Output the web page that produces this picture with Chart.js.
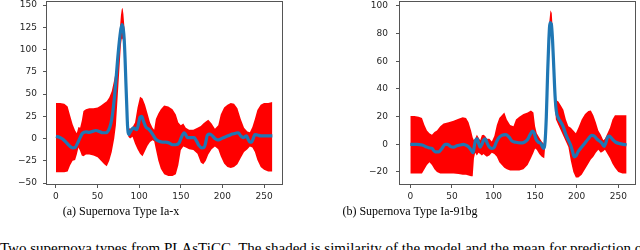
<!DOCTYPE html>
<html>
<head>
<meta charset="utf-8">
<script src="https://cdn.jsdelivr.net/npm/chart.js@4.4.0/dist/chart.umd.min.js"></script>
<style>
  body { margin: 0; width: 640px; height: 250px; overflow: hidden; background: #fff; position: relative; }
  canvas { position: absolute; top: 0; }
  .cap { position: absolute; top: 205px; font: 12px "Liberation Serif", serif; line-height: 12px; color: #000; white-space: nowrap; transform: translateX(-50%); }
  .foot { position: absolute; left: 0; top: 241px; width: 640px; height: 15px; overflow: hidden; font: 15px "Liberation Serif", serif; line-height: 15px; color: #000; white-space: nowrap; }
</style>
</head>
<body>
<canvas id="chartA" width="290" height="205" style="left:0px"></canvas>
<canvas id="chartB" width="320" height="205" style="left:320px"></canvas>
<div class="cap" style="left:121px">(a) Supernova Type Ia-x</div>
<div class="cap" style="left:410px">(b) Supernova Type Ia-91bg</div>
<div class="foot">Two supernova types from PLAsTiCC. The shaded is similarity of the model and the mean for prediction of each class</div>
<script>
// tick labels
const xTicks = [0, 50, 100, 150, 200, 250]
const yTicksA = [-50, -25, 0, 25, 50, 75, 100, 125, 150]
const yTicksB = [-20, 0, 20, 40, 60, 80, 100]

// (a) Type Ia-x : red band (upper / lower) and blue mean
const bandXA = [0,5,10,14,17,20,23,25,27,29,31,33,36,40,45,50,54,58,61,64,67,70,72,74,76,78,79,80,81,82,83,84,85,86,87,89,92,95,98,101,104,107,110,113,116,118,120,123,126,130,135,140,144,147,150,153,156,160,165,170,174,177,180,183,187,191,195,198,202,206,210,214,218,222,226,230,233,236,239,242,246,250,255,260]
const upperA = [40,40,39,36,26,16,9,6,13,12,20,31,33,34,34,35,37,40,42,46,53,66,76,95,115,138,145,147,140,128,110,85,55,25,12,11,13,18,35,47,45,38,28,18,12,10,22,28,33,37,36,33,27,18,15,17,12,10,10,12,14,17,19,21,17,11,15,27,35,38,40,39,34,22,12,8,7,13,22,32,38,40,40,41]
const lowerA = [-38,-38,-38,-37,-30,-25,-24,-18,-10,-14,-19,-20,-18,-18,-19,-21,-25,-29,-31,-25,-15,0,15,45,75,105,112,112,108,95,75,50,25,8,2,0,2,-6,-12,-17,-20,-14,-8,-4,-2,-3,-12,-25,-34,-40,-42,-42,-40,-30,-13,-9,-10,-12,-13,-17,-27,-29,-25,-18,-12,-9,-12,-20,-28,-32,-33,-32,-29,-22,-15,-12,-9,-10,-15,-24,-32,-35,-37,-37]
const meanXA = [0,4,8,12,16,20,23,26,29,32,36,40,44,48,52,56,60,63,66,68,70,72,74,76,78,79.5,81,82,83,84,85,86,87.5,89,91,93,95,97,99,101,103,105,108,112,116,120,124,128,132,136,140,144,148,151,154,156,158,162,166,169,172,175,178,180,182,185,188,191,194,197,200,204,208,212,216,219,222,225,227,229,231,233,235,237,239,242,246,252,260]
const meanA = [2.5,1.5,-0.5,-4,-8,-10.5,-10,-5,1,6,7.5,7,8,9,8,6.5,6.5,9,17,28,44,65,88,108,123,128,122,111,90,63,38,14,4.5,7,10,12,11,10,16,24,25,20,13,10,5,-1,-3,-4,-4,-5,-7,-7,-5,2,6.5,4,1,1,1,-3,-8,-10.5,-10,-4,4,5,3,0,-1.5,-1,0.5,2,3.5,5,6,6.5,3,1,2,3,-1,-4,-4,0,4.5,4,3,3,3]

// (b) Type Ia-91bg
const bandXB = [0,5,10,14,17,20,23,26,29,32,36,40,46,52,58,63,67,70,73,75,76.5,78,80,82,84,86,88,90,92,95,98,101,104,107,110,113,116,120,124,127,131,136,141,145,148,150,152,155,158,161,163,165,167,168.5,170,172,173.5,175,178,181,184,187,190,193,196,199,202,206,210,214,217,220,223,226,229,232,234,237,240,243,246,250,255,260]
const upperB = [20.5,20.5,20,19,14,10,8,7,9,10,13,15,16,17,18.5,19.5,19,16,10,5,3,4,7,5,3,6.5,7,6,4,4,2,6,14,19,21,23,18,14,13,18,20,22,23,24.5,23,13,8,5,2,0,25,60,88,97,95,75,50,32,31,28,25,18,13,12,10,8,12,18,22,24,24.5,21,16,10,7,3,4,8,12,18,21,21,21,21]
const lowerB = [-21,-21,-21,-21,-18,-15,-13,-15,-18,-20,-21,-21,-21,-21,-21.5,-22,-22,-22.5,-23,-23,-10,-6,-8,-6,-7,-8,-7,-8,-9,-8,-6,-7,-9,-13,-15,-17,-18,-19,-19,-19,-19,-18,-15,-10,-6,-3,-4,-7,-9,-10,5,48,80,85,78,55,30,18,14,10,6,2,-2,-12,-20,-24,-24,-22,-18,-14,-11,-9,-6,-4,-6,-5,-4,-7,-10,-14,-17,-20,-21,-21]
const meanXB = [0,8,14,18,22,26,30,34,38,42,45,48,52,56,60,64,68,71,74,75.5,77,78.5,80.5,82,84,86,88,90,92,95,98,101,103,106,110,115,119,122,127,132,137,141,144,147,149,151,154,157,160,162,163.5,165,166.5,168,169.5,171,172.5,174,175.5,178,181,184,187,190,193,195,197,199,202,206,210,214,218,221,224,227,230,233,235,237,239,241,244,247,252,256,260]
const meanB = [0,0,-0.5,-1.5,-2.5,-3,-5.5,-5.5,-3,0,0,-1.5,-2,-1,-0.5,0,-1,-2.5,-5,-6,-1,3,4,1,-2,0,3,4,1.5,-2,-3,-2,1,4.5,6.5,7,5,2.5,1.5,1,1.5,3.5,7,9.5,8,4,1.5,0.5,-3,2,20,50,75,88,87,75,55,35,24,19,16,12.5,7,3,-1,-5,-9,-8.5,-5,-2,1,4,6.5,6,4,2.5,1,-1.5,1,5,6,5,3,1.5,0.5,0,-0.5]

const fmt = (v) => (v < 0 ? "\u2212" + Math.abs(v) : String(v))
const pts = (xs, ys) => xs.map((x, i) => ({ x: x, y: ys[i] }))

// box round the plot area, like matplotlib spines
const frame = {
	id: "frame",
	afterDatasetsDraw(chart) {
		const { ctx, chartArea: a } = chart
		ctx.save()
		ctx.strokeStyle = "#555"
		ctx.lineWidth = 1
		ctx.strokeRect(a.left + 0.5, a.top + 0.5, a.right - a.left - 1, a.bottom - a.top - 1)
		ctx.restore()
	},
}

const tickFont = { family: "DejaVu Sans", size: 9 }

function makeChart(id, o) {
	new Chart(document.getElementById(id), {
		type: "line",
		data: {
			datasets: [
				{
					data: pts(o.meanX, o.mean),
					borderColor: "#1f77b4",
					borderWidth: 3.2,
					pointRadius: 0,
					cubicInterpolationMode: "monotone",
					fill: false,
				},
				{
					data: pts(o.bandX, o.upper),
					borderColor: "rgba(0,0,0,0)",
					borderWidth: 0,
					pointRadius: 0,
					backgroundColor: "#ff0000",
					fill: "+1",
				},
				{
					data: pts(o.bandX, o.lower),
					borderColor: "rgba(0,0,0,0)",
					borderWidth: 0,
					pointRadius: 0,
					fill: false,
				},
			],
		},
		options: {
			responsive: false,
			animation: false,
			layout: { padding: { top: 1, left: 0, bottom: 0, right: o.padRight } },
			plugins: { legend: { display: false }, tooltip: { enabled: false } },
			scales: {
				x: {
					type: "linear",
					min: o.xMin,
					max: o.xMax,
					afterBuildTicks: (s) => { s.ticks = xTicks.map((v) => ({ value: v })) },
					afterFit: (s) => { s.height = 20; s.paddingLeft = 0; s.paddingRight = 0 },
					grid: { drawOnChartArea: false, drawTicks: true, tickLength: 3, color: "#555" },
					border: { display: false },
					ticks: { font: tickFont, color: "#262626", padding: 3, maxRotation: 0, callback: fmt },
				},
				y: {
					type: "linear",
					min: o.yMin,
					max: o.yMax,
					afterBuildTicks: (s) => { s.ticks = o.yTicks.map((v) => ({ value: v })) },
					afterFit: (s) => { s.width = o.yWidth; s.paddingTop = 0; s.paddingBottom = 0 },
					grid: { drawOnChartArea: false, drawTicks: true, tickLength: 3, color: "#555" },
					border: { display: false },
					ticks: { font: tickFont, color: "#262626", padding: o.yPad, callback: fmt },
				},
			},
		},
		plugins: [frame],
	})
}

makeChart("chartA", {
	bandX: bandXA, upper: upperA, lower: lowerA, meanX: meanXA, mean: meanA,
	yTicks: yTicksA, yMin: -52.2, yMax: 154.5, xMin: -12, xMax: 272.8,
	yWidth: 46, padRight: 7, yPad: 6,
})

makeChart("chartB", {
	bandX: bandXB, upper: upperB, lower: lowerB, meanX: meanXB, mean: meanB,
	yTicks: yTicksB, yMin: -29.4, yMax: 103.6, xMin: -13.6, xMax: 271.3,
	yWidth: 79, padRight: 4, yPad: 8,
})
</script>
</body>
</html>
